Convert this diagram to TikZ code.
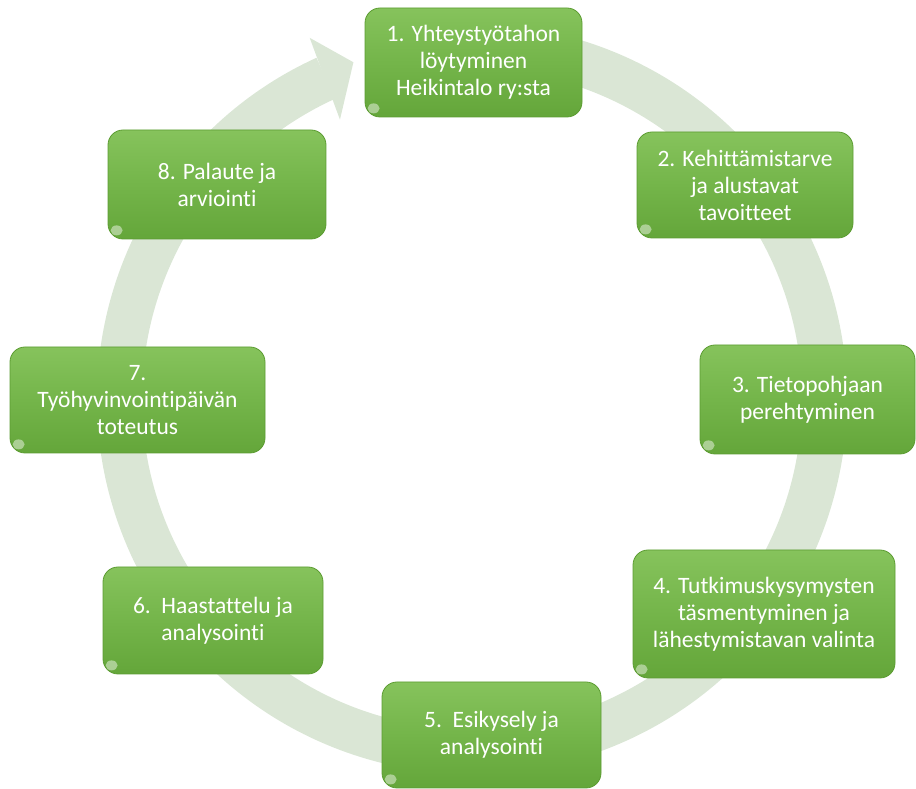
\documentclass[tikz,border=0pt]{standalone}
\usepackage{fontspec}
\setmainfont{Carlito}[Ligatures={NoCommon}]
\definecolor{ringc}{HTML}{DAE6D5}
\definecolor{boxtop}{HTML}{86C35C}
\definecolor{boxmid}{HTML}{74B54A}
\definecolor{boxbot}{HTML}{64A63A}
\definecolor{boxedge}{HTML}{5C9C32}
\tikzset{
  stepbox/.style={rounded corners=15pt, draw=boxedge, line width=0.8pt,
    top color=boxtop, bottom color=boxbot, middle color=boxmid,
    text=white, align=center, inner sep=2pt,
    font=\fontsize{23.5}{27}\selectfont},
  glint/.style={fill=white, fill opacity=0.45}
}
\begin{document}
\begin{tikzpicture}[x=1pt,y=1pt]
\useasboundingbox (0,0) rectangle (916,789);
% circular arrow
\begin{scope}[shift={(472,390)}]
  \fill[ringc] (114.5:375) arc[start angle=114.5, end angle=445, radius=375]
    -- (445:330) arc[start angle=445, end angle=114.5, radius=330] -- cycle;
  \fill[ringc] (114.2:396) -- (109.4:357) -- (115.3:309) -- cycle;
\end{scope}
% boxes
\node[stepbox, minimum width=217pt, minimum height=109pt] (b1) at (473.5,726.5) {1. Yhteystyötahon\\löytyminen\\Heikintalo ry:sta};
\node[stepbox, minimum width=216pt, minimum height=106pt] (b2) at (745,604) {2. Kehittämistarve\\ja alustavat\\tavoitteet};
\node[stepbox, minimum width=215pt, minimum height=109pt] (b3) at (807.5,389.5) {3. Tietopohjaan\\perehtyminen};
\node[stepbox, minimum width=262pt, minimum height=128pt] (b4) at (764,175) {4. Tutkimuskysymysten\\täsmentyminen ja\\lähestymistavan valinta};
\node[stepbox, minimum width=219pt, minimum height=106pt] (b5) at (491.5,54) {5.\ \ Esikysely ja\\analysointi};
\node[stepbox, minimum width=220pt, minimum height=107pt] (b6) at (213,168.5) {6.\ \ Haastattelu ja\\analysointi};
\node[stepbox, minimum width=255pt, minimum height=106pt] (b7) at (137.5,389) {7.\\Työhyvinvointipäivän\\toteutus};
\node[stepbox, minimum width=218pt, minimum height=109pt] (b8) at (217,604.5) {8. Palaute ja\\arviointi};
% small corner glints
\foreach \b in {b1,b2,b3,b4,b5,b6,b7,b8}{
  \fill[glint] ([xshift=9pt,yshift=9pt]\b.south west) ellipse[x radius=6pt, y radius=5pt];
}
\end{tikzpicture}
\end{document}
